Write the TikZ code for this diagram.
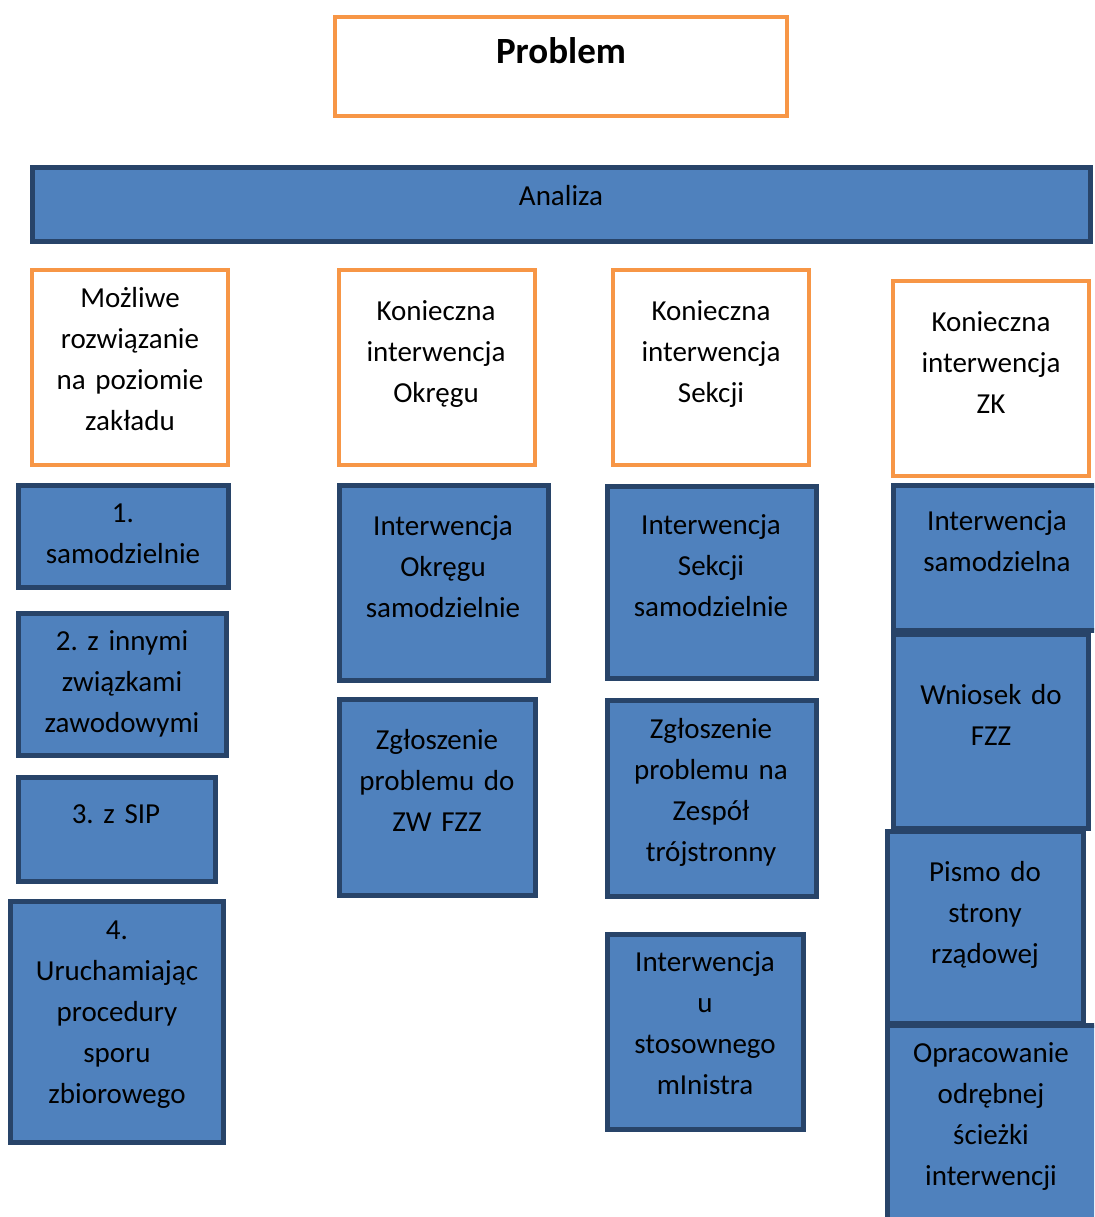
\documentclass[tikz,border=0pt]{standalone}
\usepackage{fontspec}
\setmainfont{Carlito}
\frenchspacing
\definecolor{blueC}{HTML}{4F81BD}
\definecolor{navyC}{HTML}{284469}
\definecolor{orangeC}{HTML}{F79646}
\tikzset{
  obox/.style={draw=orangeC, fill=white, line width=4pt, rectangle, inner sep=0pt, outer sep=0pt, anchor=north west},
  bbox/.style={draw=navyC, fill=blueC, line width=5pt, rectangle, inner sep=0pt, outer sep=0pt, anchor=north west},
  txt/.style={font=\fontsize{29}{41}\selectfont, align=center, anchor=base, inner sep=0pt, text width=260pt},
}
\newcommand{\mybox}[6]{% style, name, x1, y1, x2, y2
  \node[#1, minimum width={(#5-#3)*1pt}, minimum height={(#6-#4)*1pt}] (#2) at (#3,#4) {};}
\begin{document}
\begin{tikzpicture}[x=1pt,y=-1pt]
\useasboundingbox (0,0) rectangle (1094,1217);
\clip (0,0) rectangle (1094,1217);
% top
\mybox{obox}{problem}{335}{17}{787}{116}
\node[txt, font=\fontsize{37}{41}\selectfont\bfseries\frenchspacing] (tproblem) at (561,64) {Problem};
\mybox{bbox}{analiza}{32}{168}{1090}{241}
\node[txt] (tanaliza) at (561,205) {Analiza};
% headers
\mybox{obox}{h1}{32}{270}{228}{465}
\node[txt] (th1) at (130,307) {Możliwe\\rozwiązanie\\na poziomie\\zakładu};
\mybox{obox}{h2}{339}{270}{535}{465}
\node[txt] (th2) at (436,320) {Konieczna\\interwencja\\Okręgu};
\mybox{obox}{h3}{613}{270}{809}{465}
\node[txt] (th3) at (711,320) {Konieczna\\interwencja\\Sekcji};
\mybox{obox}{h4}{893}{281}{1089}{476}
\node[txt] (th4) at (991,331) {Konieczna\\interwencja\\ZK};
% column 1
\mybox{bbox}{a1}{18}{485}{228}{587}
\node[txt] (ta1) at (123,522) {1.\\samodzielnie};
\mybox{bbox}{a2}{18}{613}{226}{755}
\node[txt] (ta2) at (122,650) {2. z innymi\\związkami\\zawodowymi};
\mybox{bbox}{a3}{18}{777}{215}{881}
\node[txt] (ta3) at (116,823) {3. z SIP};
\mybox{bbox}{a4}{10}{901}{223}{1142}
\node[txt] (ta4) at (117,939) {4.\\Uruchamiając\\procedury\\sporu\\zbiorowego};
% column 2
\mybox{bbox}{b1}{339}{485}{548}{680}
\node[txt] (tb1) at (443,535) {Interwencja\\Okręgu\\samodzielnie};
\mybox{bbox}{b2}{339}{699}{535}{895}
\node[txt] (tb2) at (437,749) {Zgłoszenie\\problemu do\\ZW FZZ};
% column 3
\mybox{bbox}{c1}{607}{486}{816}{678}
\node[txt] (tc1) at (711,534) {Interwencja\\Sekcji\\samodzielnie};
\mybox{bbox}{c2}{607}{700}{816}{896}
\node[txt] (tc2) at (711,738) {Zgłoszenie\\problemu na\\Zespół\\trójstronny};
\mybox{bbox}{c3}{607}{934}{803}{1129}
\node[txt] (tc3) at (705,971) {Interwencja\\u\\stosownego\\mInistra};
% column 4
\mybox{bbox}{d1}{893}{485}{1103}{630}
\node[txt] (td1) at (997,530) {Interwencja\\samodzielna};
\mybox{bbox}{d2}{893}{634}{1088}{828}
\node[txt] (td2) at (991,704) {Wniosek do\\FZZ};
\mybox{bbox}{d3}{887}{831}{1083}{1023}
\node[txt] (td3) at (985,881) {Pismo do\\strony\\rządowej};
\mybox{bbox}{d4}{887}{1025}{1097}{1230}
\node[txt] (td4) at (991,1062) {Opracowanie\\odrębnej\\ścieżki\\interwencji};
\end{tikzpicture}
\end{document}
